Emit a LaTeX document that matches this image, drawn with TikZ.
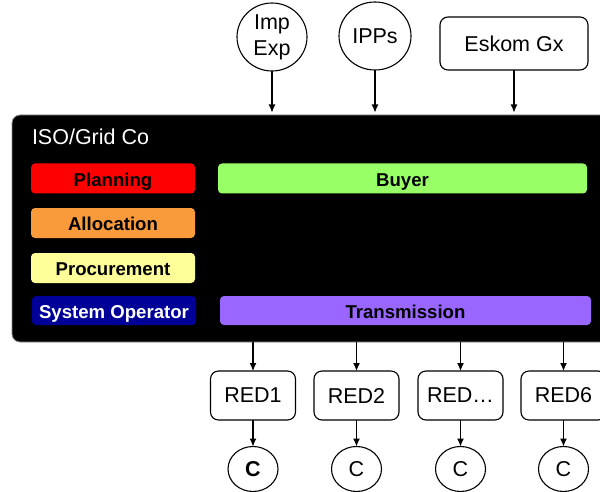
\documentclass[tikz,border=0pt]{standalone}
\usepackage{fontspec}
\setmainfont{Liberation Sans}
\usetikzlibrary{arrows.meta,shapes.geometric}

\definecolor{planred}{HTML}{FF0000}
\definecolor{alloorange}{HTML}{F99A3B}
\definecolor{procyellow}{HTML}{FFFF99}
\definecolor{sysblue}{HTML}{000099}
\definecolor{buygreen}{HTML}{99FF66}
\definecolor{transpurple}{HTML}{9966FF}
\definecolor{frame}{HTML}{8C8C8C}

\tikzset{
  x=1pt, y=-1pt,
  every node/.style={inner sep=0pt, outer sep=0pt},
  role/.style={rounded corners=4pt, minimum height=30pt,
    text height=15.4pt, text depth=0pt,
    font=\fontsize{18.6}{20}\selectfont\bfseries},
  plain/.style={draw=black, line width=1.1pt, fill=white,
    font=\fontsize{21.5}{25}\selectfont},
  roundbox/.style={plain, rounded corners=8pt},
  bubble/.style={plain, ellipse},
  link/.style={line width=1.1pt, -{Latex[length=8pt,width=7pt]}},
}

\begin{document}
\begin{tikzpicture}
\useasboundingbox (0,0) rectangle (600,492);

% grid company frame
\node[fill=black, draw=frame, line width=0.8pt, rounded corners=8pt,
      minimum width=608pt, minimum height=227pt] (grid) at (316,228.5) {};
\node[anchor=west, text=white, font=\fontsize{21.5}{25}\selectfont] (iso) at (32,137) {ISO/Grid Co};

% functions inside the grid company
\node[role, fill=planred, minimum width=164pt] (plan) at (113,178.5) {Planning};
\node[role, fill=alloorange, minimum width=164pt] (alloc) at (113,223) {Allocation};
\node[role, fill=procyellow, minimum width=164pt] (proc) at (113,268) {Procurement};
\node[role, fill=sysblue, text=white, minimum width=164pt, minimum height=29pt] (sysop) at (114,310.5) {System Operator};
\node[role, fill=buygreen, minimum width=369pt] (buyer) at (402.5,178.5) {Buyer};
\node[role, fill=transpurple, minimum width=371pt, minimum height=29pt] (trans) at (405.5,310.5) {Transmission};

% generators
\node[bubble, minimum width=70pt, minimum height=68pt, align=center,
      font=\fontsize{21.5}{26}\selectfont] (imp) at (272,37) {Imp\\Exp};
\node[bubble, minimum width=72pt, minimum height=68pt] (ipp) at (375,36) {IPPs};
\node[roundbox, minimum width=148pt, minimum height=53pt] (eskom) at (514,43.5) {Eskom Gx};

\draw[link, shorten >=2.5pt] (imp.south) -- (imp.south |- grid.north);
\draw[link, shorten >=2.5pt] (ipp.south) -- (ipp.south |- grid.north);
\draw[link, shorten >=2.5pt] (eskom.south) -- (eskom.south |- grid.north);

% distributors and customers
\foreach \n/\x/\lbl/\c in {r1/253/RED1/\bfseries C, r2/356.5/RED2/C, r3/460.5/RED\ldots/C, r4/563.5/RED6/C}{
  \node[roundbox, minimum width=85pt, minimum height=49pt] (\n) at (\x,395.5) {\lbl};
  \node[bubble, minimum width=50pt, minimum height=45pt] (\n c) at (\x,469) {\c};
  \draw[link] (\n.north |- grid.south) -- (\n.north);
  \draw[link] (\n.south) -- (\n c.north);
}
\end{tikzpicture}
\end{document}
